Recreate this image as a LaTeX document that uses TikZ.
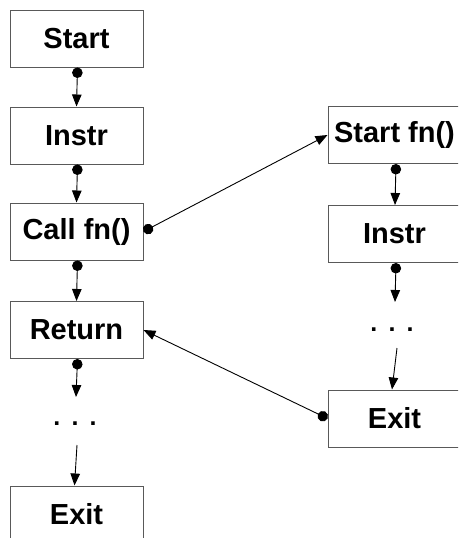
\documentclass[tikz,border=0pt]{standalone}
\usepackage{fontspec}
\setmainfont{Liberation Sans}
\usetikzlibrary{arrows.meta}
\begin{document}
\begin{tikzpicture}[x=1pt,y=-1pt,
  box/.style={draw=black!65,line width=1pt,fill=white,minimum width=133pt,minimum height=57pt,inner sep=0pt,
    font=\fontsize{29}{34}\selectfont\bfseries},
  conn/.style={draw=black,line width=0.9pt,{Circle[length=10.5pt]}-{Triangle[length=12pt,width=9.5pt]}},
  plain/.style={draw=black,line width=0.9pt,-{Triangle[length=12pt,width=9.5pt]}},
  dotsnode/.style={font=\fontsize{25}{30}\selectfont\bfseries,anchor=base,inner sep=0pt}]
\useasboundingbox (0,0) rectangle (458,538);
\clip (0,0) rectangle (458,538);
% left column
\node[box] (start) at (76.5,38.5) {Start};
\node[box] (instr) at (76.5,135.5) {Instr};
\node[box] (call) at (76.5,231.5) {Call fn()};
\node[box] (ret) at (76.5,330) {Return};
\node[dotsnode] (ldots) at (75,425) {.\ \,.\ \,.};
\node[box] (lexit) at (76.5,514.5) {Exit};
\coordinate (ldtop) at (76,397);
\coordinate (ldbot) at (77,445);
% right column
\node[box] (sfn) at (394.5,135) {Start fn()};
\node[box] (rinstr) at (394.5,234) {Instr};
\node[dotsnode] (rdots) at (392,331) {.\ \,.\ \,.};
\node[box] (rexit) at (394.5,418.5) {Exit};
\coordinate (rdtop) at (395,302);
\coordinate (rdbot) at (397,348);
% connectors
\draw[conn] ([xshift=1pt]start.south) -- (instr.north);
\draw[conn] ([xshift=1pt]instr.south) -- (call.north);
\draw[conn] ([xshift=1pt]call.south) -- (ret.north);
\draw[conn] ([xshift=1pt]ret.south) -- (ldtop);
\draw[plain] (ldbot) -- ([xshift=-2pt]lexit.north);
\draw[conn] (call.east) -- (sfn.west);
\draw[conn] ([xshift=1.5pt]sfn.south) -- ([xshift=0.5pt]rinstr.north);
\draw[conn] ([xshift=1.5pt]rinstr.south) -- (rdtop);
\draw[plain] (rdbot) -- ([xshift=-2.5pt]rexit.north);
\draw[conn] (rexit.west) -- (ret.east);
\end{tikzpicture}
\end{document}
